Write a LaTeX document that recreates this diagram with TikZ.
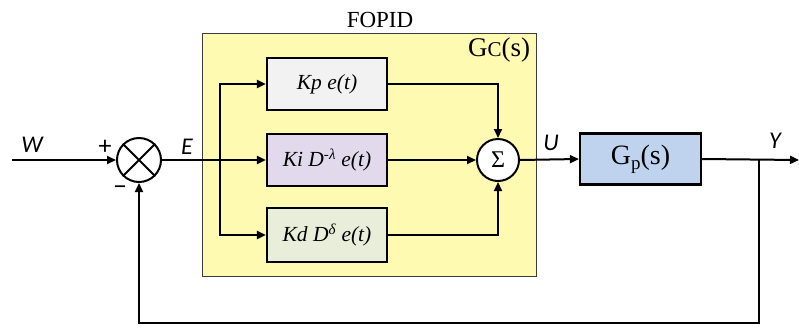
\documentclass[tikz,border=0pt]{standalone}
\usepackage{fontspec}
\setmainfont{Liberation Serif}
\newfontfamily\lblfont{Carlito}
\usetikzlibrary{arrows.meta}
\definecolor{fopidyellow}{RGB}{255,250,178}
\definecolor{kpfill}{RGB}{242,242,242}
\definecolor{kifill}{RGB}{226,218,236}
\definecolor{kdfill}{RGB}{232,238,218}
\definecolor{gpfill}{RGB}{192,211,238}
\definecolor{framegray}{RGB}{60,60,60}
\begin{document}
\begin{tikzpicture}[x=1pt,y=-1pt,
  line width=2pt,
  arr/.style={-{Triangle[length=9pt,width=8pt]}},
  blockbox/.style={draw, line width=2.2pt, minimum width=120pt, minimum height=52pt, inner sep=0pt,
    font=\fontsize{21.5}{21.5}\selectfont\itshape},
  sig/.style={font=\lblfont\itshape\fontsize{24}{24}\selectfont, inner sep=0pt},
  sumcirc/.style={draw, circle, line width=2pt, minimum size=42pt, inner sep=0pt}]
\useasboundingbox (0,0) rectangle (799,327);
% FOPID frame
\node[draw=framegray, line width=1pt, fill=fopidyellow, minimum width=334pt, minimum height=243pt, inner sep=0pt] (frame) at (369,154.5) {};
\node[font=\fontsize{23}{23}\selectfont, inner sep=0pt] (fopidlbl) at (380,20) {FOPID};
\node[font=\fontsize{27}{27}\selectfont, inner sep=0pt, anchor=east] (gclbl) at (531,50) {G{\fontsize{21}{21}\selectfont C}(s)};
% blocks
\node[blockbox, fill=kpfill] (kp) at (327,84) {Kp e(t)};
\node[blockbox, fill=kifill] (ki) at (327,160) {Ki D\textsuperscript{-λ} e(t)};
\node[blockbox, fill=kdfill, minimum height=54pt] (kd) at (327,235) {Kd D\textsuperscript{δ} e(t)};
\node[sumcirc, fill=white] (sum) at (498,160) {\fontsize{24}{24}\selectfont Σ};
\node[draw, line width=2.2pt, fill=gpfill, minimum width=121pt, minimum height=51pt, inner sep=0pt,
  font=\fontsize{28}{28}\selectfont] (gp) at (640.5,159) {G\raisebox{-5pt}{\fontsize{19}{19}\selectfont p}(s)};
% comparator
\node[sumcirc, minimum size=44pt] (cmp) at (139,160) {};
\draw (cmp.north west) -- (cmp.south east);
\draw (cmp.north east) -- (cmp.south west);
% coordinates
\coordinate (win) at (12,160);
\coordinate (br) at (220,160);
\coordinate (fb) at (759,160);
\coordinate (fbb) at (759,323);
\coordinate (yout) at (799,160);
% connectors
\draw[arr] (win) -- (cmp.west);
\draw[arr] (cmp.east) -- (ki.west);
\draw[arr] (br) |- (kp.west);
\draw[arr] (br) |- (kd.west);
\draw[arr] (kp.east) -| (sum.north);
\draw[arr] (ki.east) -- (sum.west);
\draw[arr] (kd.east) -| (sum.south);
\draw[arr] (sum.east) -- (gp.west);
\draw[arr] (gp.east) -- (yout);
\draw[arr] (fb) -- (fbb) -| (cmp.south);
% labels
\node[sig] (wl) at (32,145) {W};
\node[sig, font=\lblfont\fontsize{26}{26}\selectfont] (plus) at (105,147) {+};
\node[sig, font=\lblfont\fontsize{28}{28}\selectfont] (minus) at (120,190) {–};
\node[sig] (el) at (187,147) {E};
\node[sig] (ul) at (551,143) {U};
\node[sig] (yl) at (775,141) {Y};
\end{tikzpicture}
\end{document}
